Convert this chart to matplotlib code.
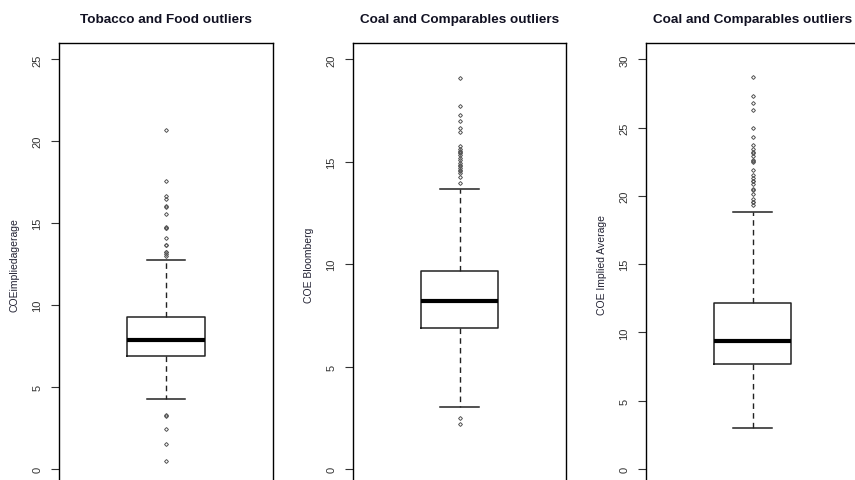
import matplotlib
matplotlib.use('Agg')
import matplotlib.pyplot as plt

plt.rcParams['font.family'] = ['Liberation Sans', 'DejaVu Sans']

# ---- data (box stats + outliers) ----
titles = ['Tobacco and Food outliers', 'Coal and Comparables outliers', 'Coal and Comparables outliers']
ylabels = ['COEimpliedagerage', 'COE Bloomberg', 'COE Implied Average']

tob_stats = [4.29, 6.9, 7.9, 9.25, 12.75]   # whislo, q1, med, q3, whishi
tob_out = [20.7, 17.59, 16.64, 16.49, 16.04, 16.0, 15.57, 14.76, 14.72, 14.68,
           14.08, 13.67, 13.64, 13.27, 13.24, 13.14, 13.02,
           3.27, 3.22, 2.45, 1.51, 0.51]

bbg_stats = [3.04, 6.86, 8.22, 9.67, 13.66]
bbg_out = [19.07, 17.71, 17.27, 16.98, 16.67, 16.47, 15.77, 15.62, 15.54, 15.5,
           15.42, 15.33, 15.2, 15.11, 14.95, 14.85, 14.79, 14.7, 14.62, 14.55,
           14.46, 14.25, 13.97, 2.48, 2.2]

imp_stats = [3.01, 7.67, 9.34, 12.18, 18.85]
imp_out = [28.68, 27.33, 26.81, 26.27, 25.0, 24.31, 23.73, 23.46, 23.19, 23.15,
           22.9, 22.6, 22.57, 22.5, 21.91, 21.52, 21.32, 21.12, 21.08, 20.88,
           20.48, 20.44, 20.12, 19.8, 19.58, 19.54, 19.36]

yticks = [[0, 5, 10, 15, 20, 25], [0, 5, 10, 15, 20], [0, 5, 10, 15, 20, 25, 30]]
ylims = [(-1.0, 26.0), (-0.8, 20.8), (-1.2, 31.2)]

W, H = 855, 481
fig = plt.figure(figsize=(W / 100, H / 100), dpi=100)

# axes placement in pixels (left, right); top/bottom shared
lefts = [59, 353, 646]
widths = [214, 213, 213]
top_px, bot_px = 44, 486.3

panels = [(tob_stats, tob_out), (bbg_stats, bbg_out), (imp_stats, imp_out)]

for i, (st, out) in enumerate(panels):
    ax = fig.add_axes([lefts[i] / W, (H - bot_px) / H, widths[i] / W, (bot_px - top_px) / H])
    stats = [dict(whislo=st[0], q1=st[1], med=st[2], q3=st[3], whishi=st[4], fliers=out)]
    ax.bxp(stats, positions=[1], widths=0.365, showfliers=True,
           boxprops=dict(color='#222222', lw=1.1),
           medianprops=dict(color='black', lw=3),
           whiskerprops=dict(color='#222222', lw=1.0, linestyle=(0, (4, 3))),
           capprops=dict(color='#222222', lw=1.1),
           capwidths=0.18,
           flierprops=dict(marker='D', markersize=2.0, markerfacecolor='none',
                           markeredgecolor='#555555', markeredgewidth=0.7, linestyle='none'))
    ax.set_xlim(0.5, 1.5)
    ax.set_ylim(*ylims[i])
    ax.set_xticks([])
    ax.set_yticks(yticks[i])
    ax.set_yticklabels([str(t) for t in yticks[i]], rotation=90, va='center',
                       fontsize=8, color='#333333')
    ax.tick_params(axis='y', length=6, width=0.8, pad=6, colors='#333333')
    for s in ax.spines.values():
        s.set_linewidth(1.0)
        s.set_color('black')
    ax.set_ylabel(ylabels[i], fontsize=7.5, color='#222233', labelpad=9)
    fig.text((lefts[i] + widths[i] / 2) / W, 1 - 20 / H, titles[i],
             ha='center', va='center', fontsize=9.7, fontweight='bold', color='#111122')

fig.savefig('out.png', dpi=100)
